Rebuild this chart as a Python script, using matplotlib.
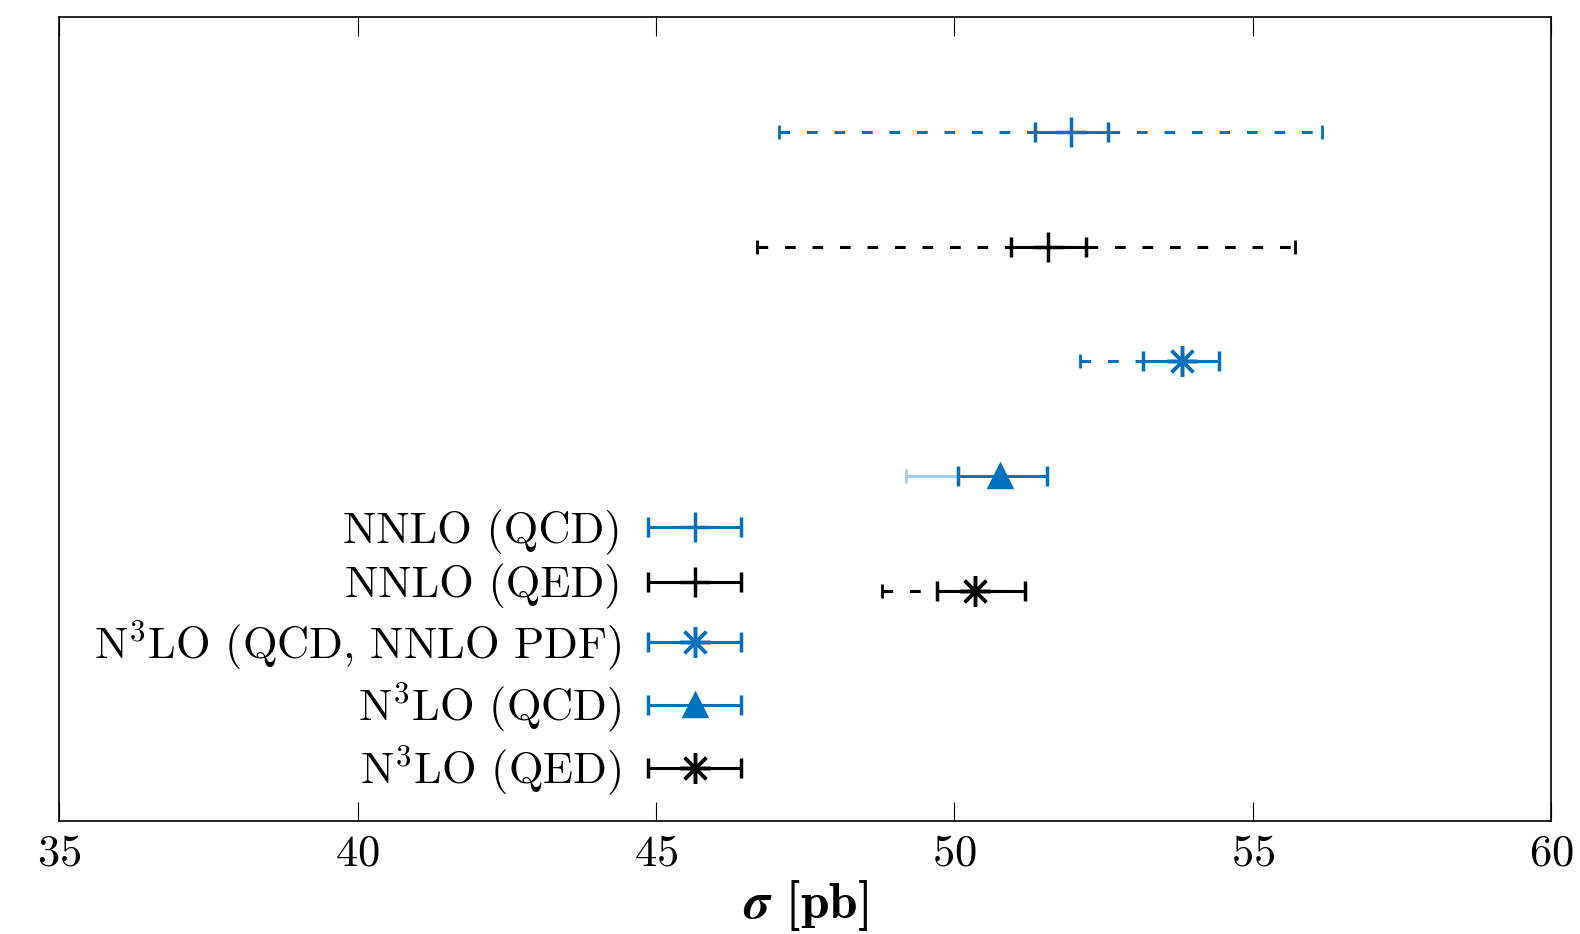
import numpy as np
import matplotlib
matplotlib.use('Agg')
import matplotlib.pyplot as plt
from matplotlib.container import ErrorbarContainer
from matplotlib.legend_handler import HandlerErrorbar

plt.rcParams['font.family'] = 'serif'
plt.rcParams['font.serif'] = ['cmr10']
plt.rcParams['mathtext.fontset'] = 'cm'
plt.rcParams['axes.formatter.use_mathtext'] = True

blue = '#0072BD'
lightblue = '#9fd0f0'

labels = ['NNLO (QCD)', 'NNLO (QED)', r'N$^3$LO (QCD, NNLO PDF)',
          r'N$^3$LO (QCD)', r'N$^3$LO (QED)']
rows = [6, 5, 4, 3, 2]
central = [51.96, 51.57, 53.82, 50.76, 50.34]
inner_lo = [51.35, 50.95, 53.16, 50.07, 49.71]
inner_hi = [52.58, 52.20, 54.43, 51.55, 51.18]
outer_lo = [47.06, 46.69, 52.11, 49.19, 48.78]
outer_hi = [56.17, 55.71, 54.43, 51.55, 51.18]
colors = [blue, 'black', blue, blue, 'black']
outer_colors = [blue, 'black', blue, lightblue, 'black']
outer_styles = [(0, (3.5, 5.5)), (0, (3.5, 5.5)), (0, (3.5, 5.5)), '-', (0, (3.5, 5.5))]
markers = ['+', '+', (8, 2, 0), '^', (8, 2, 0)]
msizes = [22, 22, 22, 16, 22]

fig = plt.figure(figsize=(15.8, 9.34), dpi=100)
ax = fig.add_axes([0.0376, 0.121, 0.944, 0.861])

handles = []
for i in range(len(rows)):
    y = rows[i]
    c = central[i]
    # outer range (dashed)
    eb = ax.errorbar([c], [y], xerr=[[c - outer_lo[i]], [outer_hi[i] - c]],
                     fmt='none', ecolor=outer_colors[i], elinewidth=2.2,
                     capsize=5, capthick=2)
    eb[2][0].set_linestyle(outer_styles[i])
    # inner range with marker
    h = ax.errorbar([c], [y], xerr=[[c - inner_lo[i]], [inner_hi[i] - c]],
                    fmt='', linestyle='none', marker=markers[i],
                    color=colors[i], ecolor=colors[i],
                    elinewidth=2.2, capsize=7, capthick=2.2,
                    markersize=msizes[i], markeredgewidth=2.5,
                    label=labels[i])
    handles.append(h)

ax.set_xlim(35, 60)
ax.set_ylim(0, 7)
ax.set_xticks([35, 40, 45, 50, 55, 60])
ax.set_yticks([])
ax.tick_params(axis='x', direction='in', top=True, length=14, width=0.8,
               labelsize=32, pad=10)
for s in ax.spines.values():
    s.set_linewidth(1.2)

ax.set_xlabel(r'$\boldsymbol{\sigma}$ [pb]', fontsize=37, family='cmb10',
              labelpad=2)

ax.legend(handles=handles, loc='lower right', bbox_to_anchor=(0.4735, 0.002),
          markerfirst=False, frameon=False, fontsize=32, handlelength=2.2,
          handletextpad=0.55, labelspacing=0.2, borderpad=0,
          handler_map={ErrorbarContainer: HandlerErrorbar(xerr_size=1.05)})

fig.savefig('out.png', dpi=100)
